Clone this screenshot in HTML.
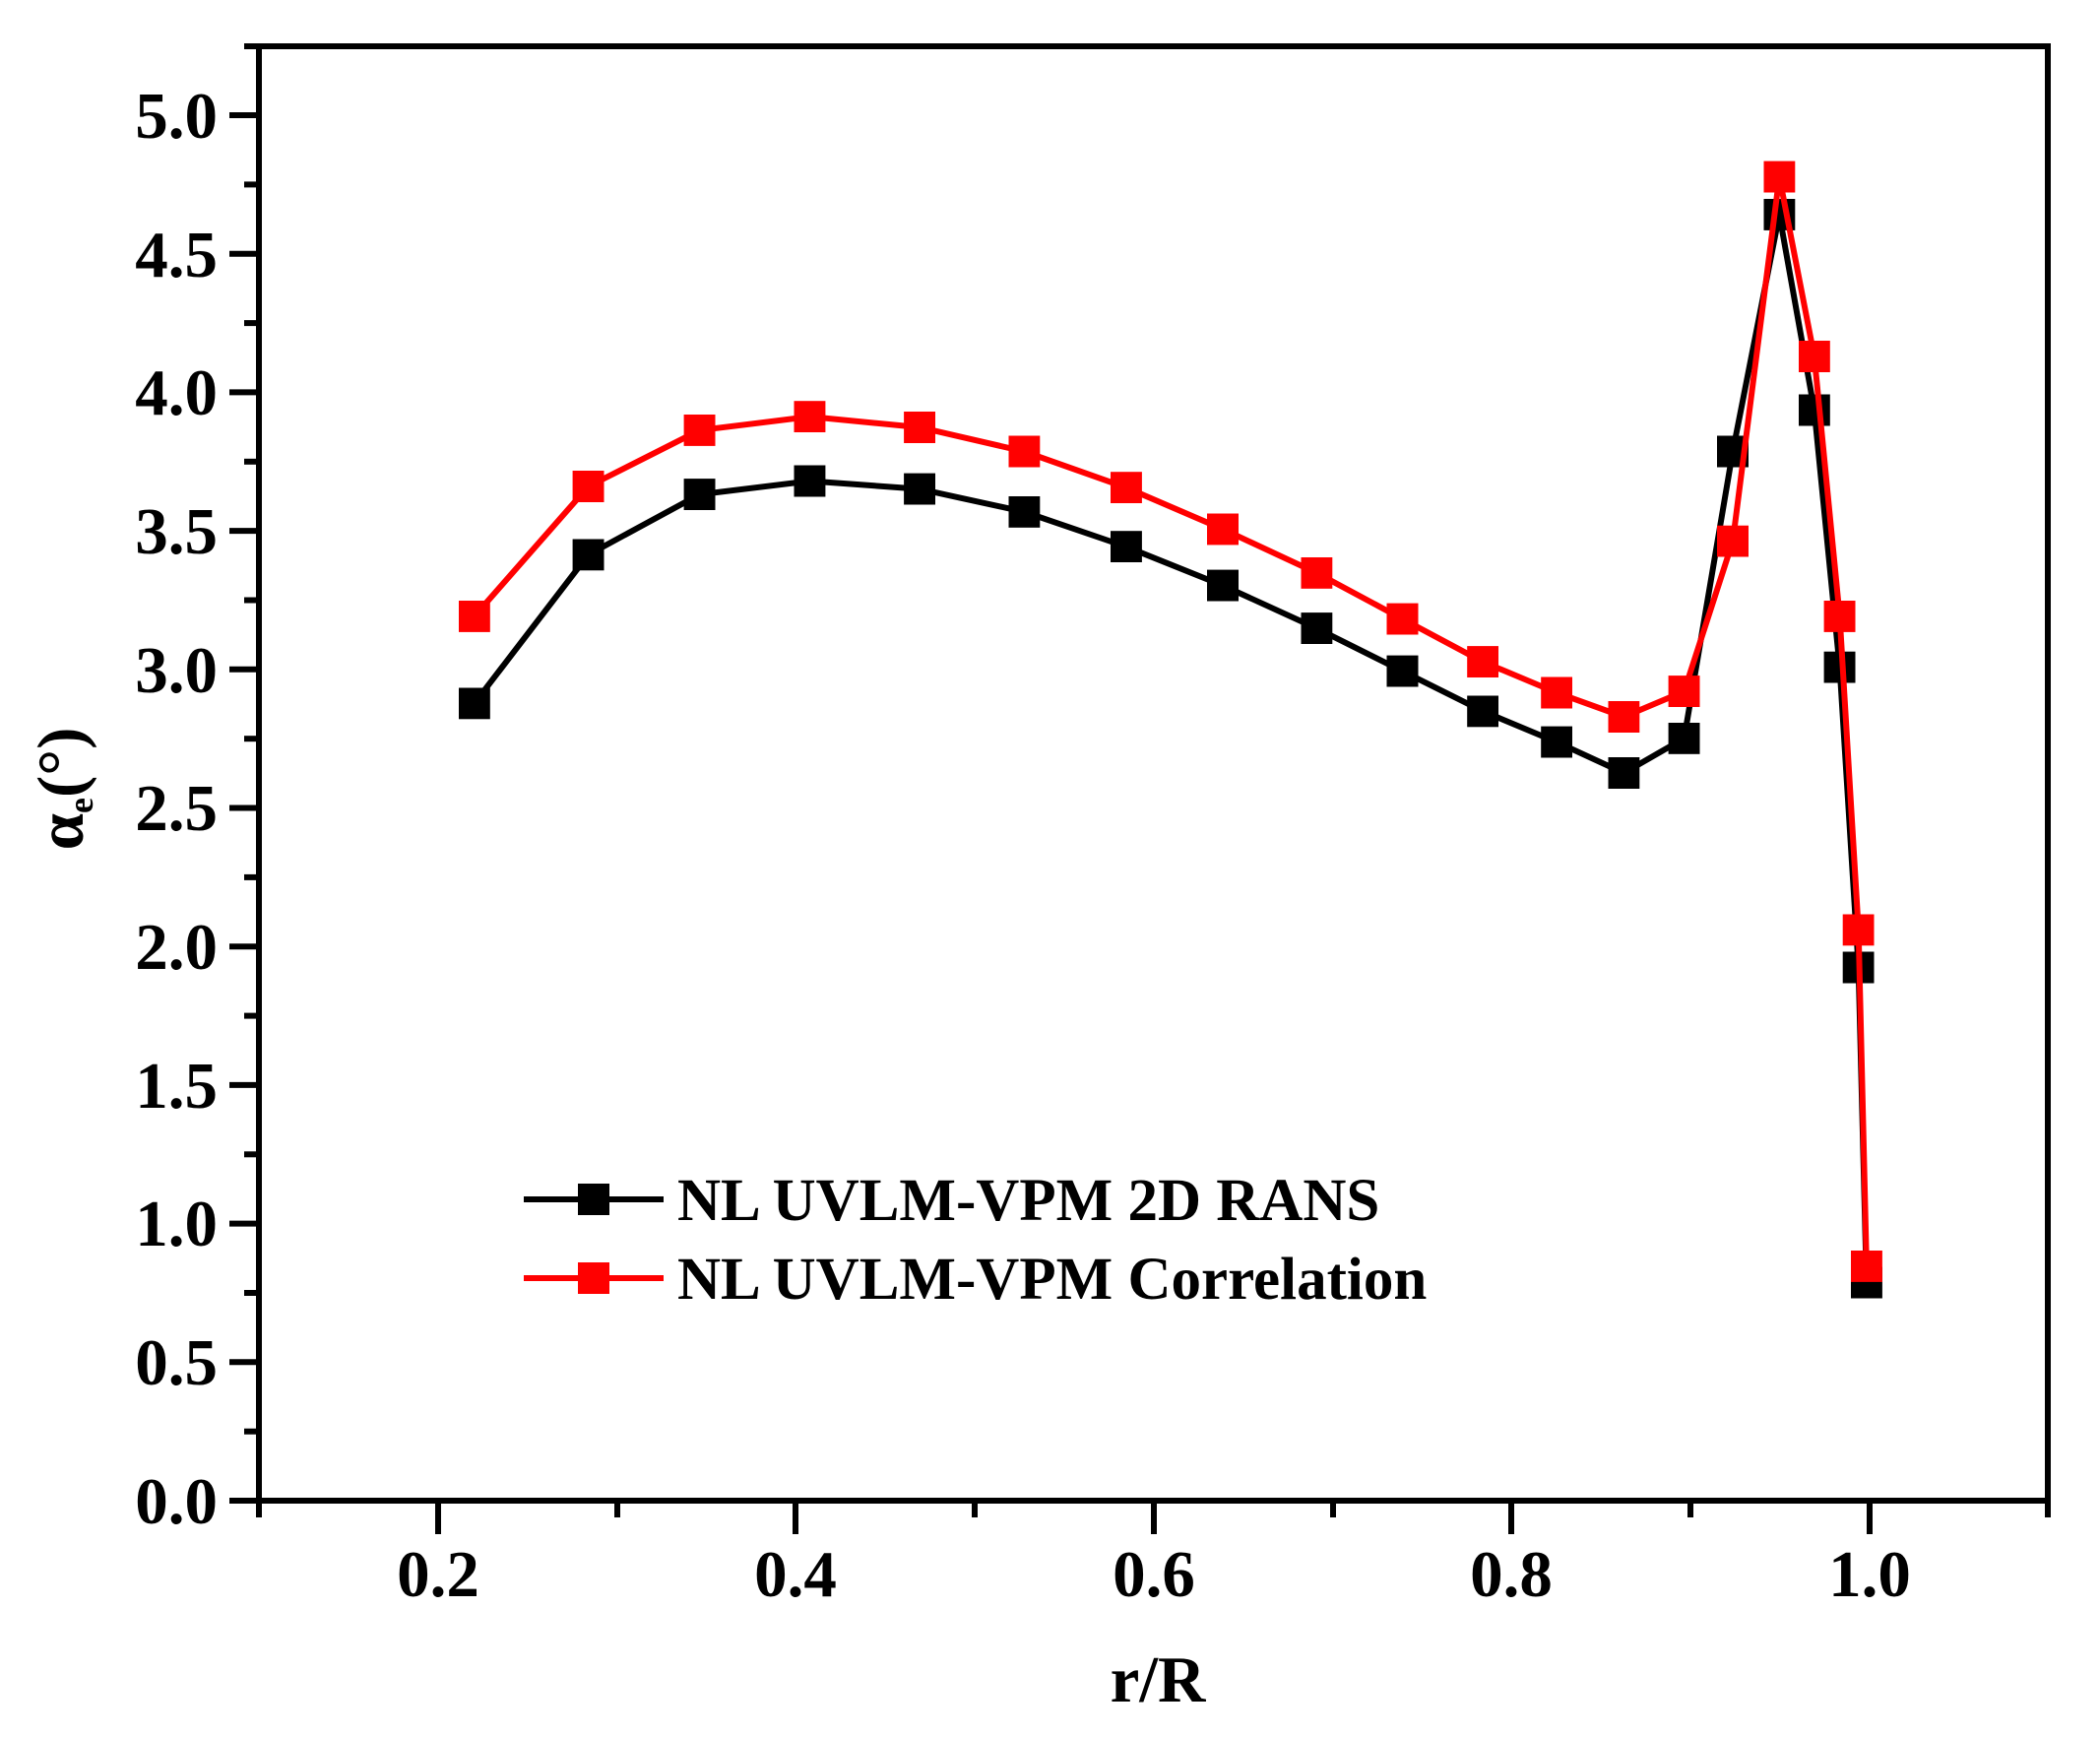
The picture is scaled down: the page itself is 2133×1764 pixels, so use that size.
<!DOCTYPE html>
<html><head><meta charset="utf-8"><style>body{margin:0;background:#fff}svg{display:block}</style></head><body>
<svg width="2133" height="1764" viewBox="0 0 2133 1764" xmlns="http://www.w3.org/2000/svg" font-family="Liberation Serif, serif" font-weight="bold">
<defs>
<marker id="mk" markerUnits="userSpaceOnUse" markerWidth="32" markerHeight="32" refX="16" refY="16" viewBox="0 0 32 32"><rect width="32" height="32" fill="#000"/></marker>
<marker id="mr" markerUnits="userSpaceOnUse" markerWidth="32" markerHeight="32" refX="16" refY="16" viewBox="0 0 32 32"><rect width="32" height="32" fill="#f00"/></marker>
</defs>
<rect width="2133" height="1764" fill="#fff"/>
<rect x="263" y="47" width="1817" height="1477" stroke="#000" stroke-width="6" fill="none"/>
<g stroke="#000" stroke-width="6">
<line x1="233" y1="117" x2="263" y2="117"/><line x1="233" y1="257.7" x2="263" y2="257.7"/><line x1="233" y1="398.4" x2="263" y2="398.4"/><line x1="233" y1="539.1" x2="263" y2="539.1"/><line x1="233" y1="679.8" x2="263" y2="679.8"/><line x1="233" y1="820.5" x2="263" y2="820.5"/><line x1="233" y1="961.2" x2="263" y2="961.2"/><line x1="233" y1="1101.9" x2="263" y2="1101.9"/><line x1="233" y1="1242.6" x2="263" y2="1242.6"/><line x1="233" y1="1383.3" x2="263" y2="1383.3"/><line x1="233" y1="1524" x2="263" y2="1524"/>
<line x1="248" y1="47" x2="263" y2="47"/><line x1="248" y1="187.4" x2="263" y2="187.4"/><line x1="248" y1="328.1" x2="263" y2="328.1"/><line x1="248" y1="468.8" x2="263" y2="468.8"/><line x1="248" y1="609.5" x2="263" y2="609.5"/><line x1="248" y1="750.2" x2="263" y2="750.2"/><line x1="248" y1="890.9" x2="263" y2="890.9"/><line x1="248" y1="1031.6" x2="263" y2="1031.6"/><line x1="248" y1="1172.3" x2="263" y2="1172.3"/><line x1="248" y1="1313" x2="263" y2="1313"/><line x1="248" y1="1453.7" x2="263" y2="1453.7"/>
<line x1="445" y1="1524" x2="445" y2="1558"/><line x1="808" y1="1524" x2="808" y2="1558"/><line x1="1172" y1="1524" x2="1172" y2="1558"/><line x1="1535" y1="1524" x2="1535" y2="1558"/><line x1="1899" y1="1524" x2="1899" y2="1558"/>
<line x1="263" y1="1524" x2="263" y2="1541"/><line x1="627" y1="1524" x2="627" y2="1541"/><line x1="990" y1="1524" x2="990" y2="1541"/><line x1="1354" y1="1524" x2="1354" y2="1541"/><line x1="1717" y1="1524" x2="1717" y2="1541"/><line x1="2080" y1="1524" x2="2080" y2="1541"/>
</g>
<g font-size="67" text-anchor="end">
<text x="221" y="140">5.0</text><text x="221" y="281">4.5</text><text x="221" y="421">4.0</text><text x="221" y="562">3.5</text><text x="221" y="703">3.0</text><text x="221" y="843">2.5</text><text x="221" y="984">2.0</text><text x="221" y="1125">1.5</text><text x="221" y="1265">1.0</text><text x="221" y="1406">0.5</text><text x="221" y="1547">0.0</text>
</g>
<g font-size="67" text-anchor="middle">
<text x="445" y="1621">0.2</text><text x="808" y="1621">0.4</text><text x="1172" y="1621">0.6</text><text x="1535" y="1621">0.8</text><text x="1899" y="1621">1.0</text>
<text x="1176" y="1728">r/R</text>
</g>
<text transform="translate(84,801) rotate(-90)" font-size="67" text-anchor="middle">α<tspan font-size="36" dy="10">e</tspan><tspan dy="-10">(°)</tspan></text>
<polyline fill="none" stroke="#000" stroke-width="6" marker-start="url(#mk)" marker-mid="url(#mk)" marker-end="url(#mk)" points="481.8,714.3 597.6,563.3 710.6,502.1 822.4,488.5 934.1,496.6 1040.3,519.8 1143.9,555.2 1242,594.6 1337.3,638.1 1424.5,681.6 1506.2,722.3 1581.2,753.6 1649.3,785 1710.6,749.8 1760,458.5 1807.3,217.9 1842.8,416.5 1868.6,677.7 1887.7,982.5 1895.9,1302.6"/>
<polyline fill="none" stroke="#f00" stroke-width="6" marker-start="url(#mr)" marker-mid="url(#mr)" marker-end="url(#mr)" points="481.8,625.9 597.6,494 710.6,436.9 822.4,423.2 934.1,434 1040.3,458.5 1143.9,495.2 1242,537.4 1337.3,581.8 1424.5,628.6 1506.2,672.1 1581.2,703.5 1649.3,728 1710.6,702.1 1760,549.7 1807.3,179.6 1842.8,362 1868.6,625.9 1887.7,944.3 1895.9,1285.9"/>
<line x1="532" y1="1218" x2="674" y2="1218" stroke="#000" stroke-width="6"/>
<rect x="587" y="1202" width="32" height="32" fill="#000"/>
<line x1="532" y1="1298" x2="674" y2="1298" stroke="#f00" stroke-width="6"/>
<rect x="587" y="1282" width="32" height="32" fill="#f00"/>
<g font-size="61"><text x="688" y="1239">NL UVLM-VPM 2D RANS</text><text x="688" y="1319">NL UVLM-VPM Correlation</text></g>
</svg>
</body></html>
